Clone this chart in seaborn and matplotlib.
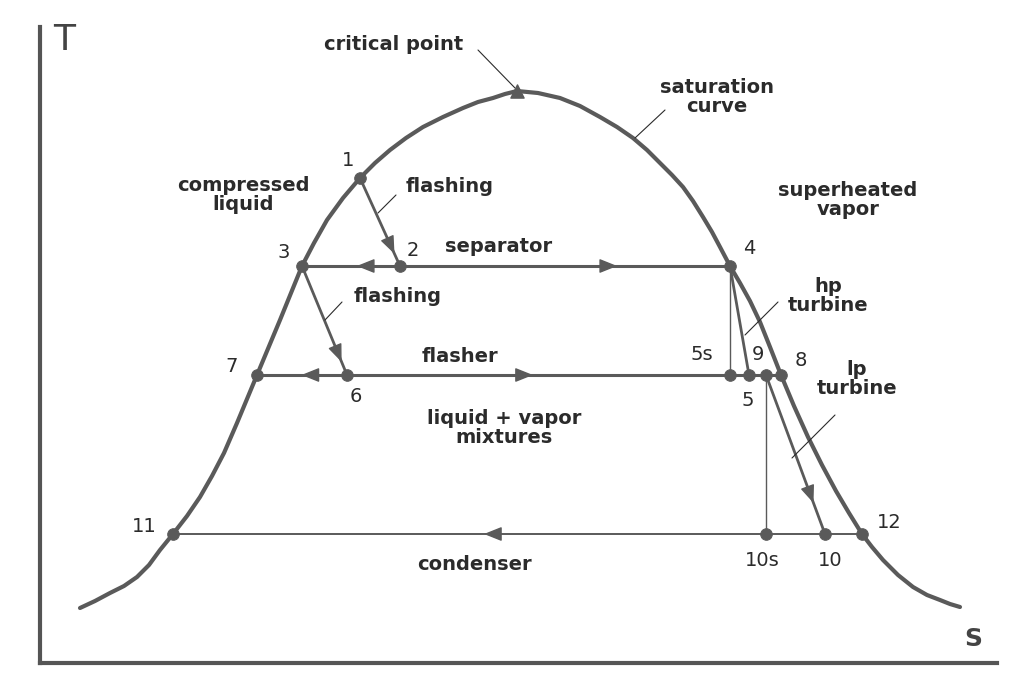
import numpy as np
import matplotlib
matplotlib.use("Agg")
import matplotlib.pyplot as plt
import seaborn as sns

# === Datos (s, T en unidades arbitrarias) ===
# Curva de saturacion (campana)
dome_s = [40, 55, 70, 84, 97, 109, 120, 133, 147, 160, 172, 184, 197, 207, 217, 240, 262, 274,
          287, 303, 320, 335, 350, 366, 383, 403, 423, 438, 453, 465, 477, 498, 520, 540,
          560, 577, 593, 607, 620, 632, 643, 653, 663, 672, 680, 690, 700, 710, 720, 730, 741,
          754, 768, 782, 796, 809, 822, 832, 843, 858, 873, 887, 900, 910, 920]
dome_T = [55, 62, 70, 77, 86, 98, 113, 129, 147, 166, 187, 210, 240, 264, 288, 343, 397, 420,
          443, 465, 485, 500, 513, 525, 536, 546, 555, 561, 565, 569, 572, 570, 565, 557,
          546, 536, 525, 513, 500, 488, 476, 462, 446, 431, 416, 397, 380, 362, 341, 316, 288,
          257, 226, 198, 172, 150, 129, 116, 103, 88, 76, 68, 63, 59, 56]

# Punto critico
crit_s, crit_T = 477, 572

# Estados del ciclo de doble flash
state_names = ["1", "2", "3", "4", "5s", "5", "9", "8", "6", "7", "11", "10s", "10", "12"]
state_s = [320, 360, 262, 690, 690, 709, 726, 741, 307, 217, 133, 726, 785, 822]
state_T = [485, 397, 397, 397, 288, 288, 288, 288, 288, 288, 129, 129, 129, 129]

# Procesos (desde, hasta, grosor)
procesos = [("3", "4", 2.2), ("7", "8", 2.2), ("11", "12", 1.4),
            ("1", "2", 2.0), ("3", "6", 2.0), ("4", "5s", 1.0),
            ("4", "5", 2.0), ("9", "10s", 1.0), ("9", "10", 2.0)]

# Flechas de direccion (desde, hacia, fraccion del tramo)
flechas = [("2", "3", 0.38), ("2", "4", 0.64), ("6", "7", 0.44), ("6", "5s", 0.47),
           ("12", "11", 0.54), ("1", "2", 0.80), ("3", "6", 0.83), ("9", "10", 0.77)]

# Etiquetas de los estados (posicion del texto)
num_pos = {"1": (308, 503), "2": (373, 413), "3": (244, 410), "4": (709, 415),
           "5s": (662, 309), "9": (718, 309), "8": (761, 303), "5": (708, 262),
           "7": (192, 296), "6": (316, 267), "11": (104, 136), "12": (849, 141),
           "10s": (722, 102), "10": (790, 102)}

# Textos de regiones y equipos
textos = [("critical point", 354, 619), ("saturation\ncurve", 677, 566),
          ("compressed\nliquid", 203, 468), ("flashing", 410, 477),
          ("superheated\nvapor", 808, 463), ("separator", 459, 416),
          ("hp\nturbine", 788, 367), ("flashing", 358, 366),
          ("flasher", 420, 307), ("lp\nturbine", 817, 284),
          ("liquid + vapor\nmixtures", 464, 235), ("condenser", 434, 98)]

# Lineas guia de las etiquetas
guias = [(438, 613, 475, 575), (625, 553, 595, 525), (356, 468, 338, 450),
         (738, 361, 705, 328), (302, 361, 285, 343), (795, 248, 752, 205)]

GRIS = "#5a5a5a"
TXT = "#2b2b2b"

sns.set_theme(style="white")
plt.rcParams["font.family"] = ["DejaVu Sans"]

fig = plt.figure(figsize=(10.11, 6.78), dpi=100)
ax = fig.add_axes([40 / 1011, 15 / 678, 957 / 1011, 636 / 678])
ax.set_xlim(0, 957)
ax.set_ylim(0, 636)

pos = {n: (s, t) for n, s, t in zip(state_names, state_s, state_T)}

# Curva de saturacion
sns.lineplot(x=dome_s, y=dome_T, sort=False, estimator=None, color=GRIS, lw=3.0,
             solid_joinstyle="round", ax=ax)

# Procesos
for a, b, lw in procesos:
    sns.lineplot(x=[pos[a][0], pos[b][0]], y=[pos[a][1], pos[b][1]], sort=False,
                 estimator=None, color=GRIS, lw=lw, ax=ax)

# Flechas
for a, b, f in flechas:
    p0 = np.array(pos[a], dtype=float)
    p1 = np.array(pos[b], dtype=float)
    d = (p1 - p0) / np.linalg.norm(p1 - p0)
    tip = p0 + f * (p1 - p0) + d * 6
    ax.annotate("", xy=tip, xytext=tip - d * 2,
                arrowprops=dict(arrowstyle="-|>,head_length=1.0,head_width=0.4",
                                mutation_scale=11, fc=GRIS, ec=GRIS, lw=1,
                                shrinkA=0, shrinkB=0))

# Puntos de estado
sns.scatterplot(x=state_s, y=state_T, s=70, color=GRIS, edgecolor=GRIS, zorder=5, ax=ax)
ax.scatter([crit_s], [crit_T], marker="^", s=90, color=GRIS, zorder=5)

# Numeros de los estados
for n, (x, y) in num_pos.items():
    ax.text(x, y, n, ha="center", va="center", fontsize=14, color=TXT)

# Textos descriptivos
for t, x, y in textos:
    ax.text(x, y, t, ha="center", va="center", fontsize=14, fontweight="bold",
            color=TXT, linespacing=0.95)

for x0, y0, x1, y1 in guias:
    ax.plot([x0, x1], [y0, y1], color=TXT, lw=0.8)

# Ejes T - s
ax.text(24, 623, "T", ha="center", va="center", fontsize=26, color="#444444")
ax.text(933, 24, "S", ha="center", va="center", fontsize=18, fontweight="bold", color="#444444")

ax.set_xticks([])
ax.set_yticks([])
sns.despine(ax=ax)
for sp in ["left", "bottom"]:
    ax.spines[sp].set_linewidth(3)
    ax.spines[sp].set_color("#555555")

fig.savefig("out.png", dpi=100)
